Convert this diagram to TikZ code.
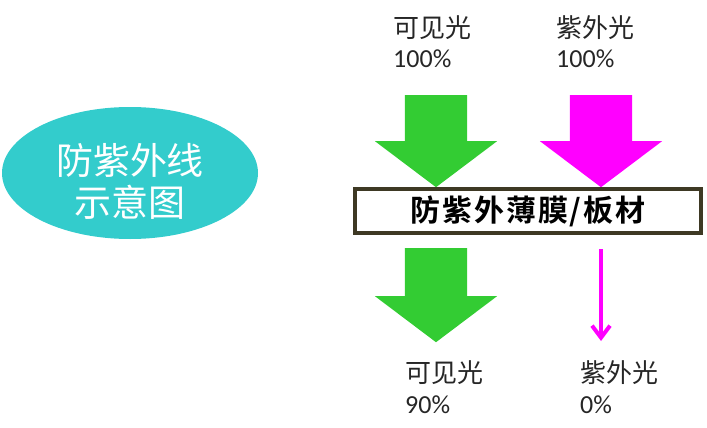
\documentclass[tikz,border=0pt]{standalone}
\usepackage{fontspec}
\setmainfont{Carlito}
\newfontfamily\cjk{Noto Sans CJK SC}[BoldFont={Noto Sans CJK SC Bold}]
\usepackage{tikz}
\usetikzlibrary{arrows.meta,positioning,shapes.geometric,shapes.arrows}
\definecolor{bubbleteal}{RGB}{51,204,204}
\definecolor{lightgreen}{RGB}{51,204,51}
\definecolor{uvmagenta}{RGB}{255,0,255}
\definecolor{filmedge}{RGB}{62,57,36}
\definecolor{labelgray}{RGB}{38,38,38}
\tikzset{
  titlebubble/.style={
    ellipse,
    fill=bubbleteal,
    minimum width=256pt,
    minimum height=132pt,
    inner sep=0pt
  },
  titletext/.style={anchor=base, inner sep=0pt, text=white, align=center, font=\cjk\fontsize{37}{42}\selectfont},
  filmbox/.style={
    draw=filmedge,
    line width=4pt,
    fill=white,
    minimum width=346pt,
    minimum height=44pt,
    inner sep=0pt,
    font=\cjk\bfseries\fontsize{30}{30}\selectfont\addfontfeature{LetterSpace=6}
  },
  lightlabel/.style={anchor=base west, inner sep=0pt, align=left, text=labelgray, font=\fontsize{26}{31}\selectfont},
  fatarrow/.style={
    single arrow,
    rotate=-90,
    anchor=tail,
    inner xsep=0pt,
    inner ysep=31pt,
    minimum width=122pt,
    single arrow head extend=30pt,
    single arrow tip angle=106,
    minimum height=#1
  },
  greenray/.style={fatarrow=#1, fill=lightgreen},
  uvray/.style={fatarrow=#1, fill=uvmagenta},
  uvthin/.style={-{Straight Barb[length=12pt,width=18pt]}, line width=4pt, draw=uvmagenta}
}

\begin{document}
\begin{tikzpicture}[x=1pt,y=-1pt]
  \useasboundingbox (0,0) rectangle (707,428);

  \node[titlebubble] (uvbubble) at (130,173) {};
  \node[titletext] (uvtitle) at (130,216) {防紫外线\\示意图};

  \node[lightlabel] (visin) at (393,68) {{\cjk 可见光}\\100\%};
  \node[lightlabel] (uvin) at (556,68) {{\cjk 紫外光}\\100\%};

  \node[greenray=92pt] (visdown) at (436,95) {};
  \node[uvray=92pt] (uvdown) at (601,95) {};

  \node[filmbox] (film) at (528,211) {防紫外薄膜/板材};

  \node[greenray=94pt] (visthrough) at (436,248) {};
  \coordinate (uvend) at (601,341);
  \draw[uvthin] ([yshift=-14pt]film.south -| uvend) -- (uvend);

  \node[lightlabel] (visout) at (405,413) {{\cjk 可见光}\\90\%};
  \node[lightlabel] (uvout) at (580,413) {{\cjk 紫外光}\\0\%};
\end{tikzpicture}
\end{document}
